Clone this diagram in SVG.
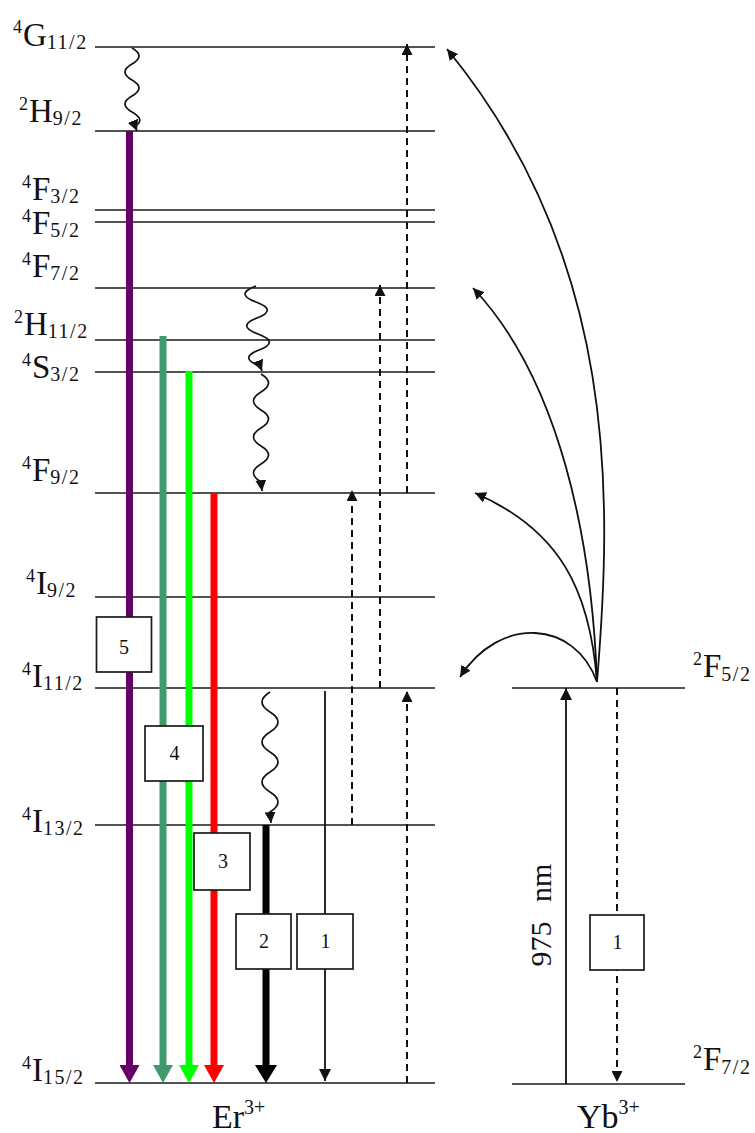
<svg xmlns="http://www.w3.org/2000/svg" width="755" height="1133" viewBox="0 0 755 1133">
<style>
.lv{stroke:#1a1a1a;stroke-width:1.7;fill:none}
.t{font-family:"Liberation Serif","Times New Roman",serif;fill:#111}
.m{font-size:33px}
.sb{font-size:20px;letter-spacing:1.5px}
.sp{font-size:18px}
.bx rect{fill:#fff;stroke:#1a1a1a;stroke-width:1.7}
.bx text{font-family:"Liberation Serif","Times New Roman",serif;font-size:20px;text-anchor:middle;fill:#111}
.thin{stroke:#111;stroke-width:1.8;fill:none}
.dash{stroke:#111;stroke-width:2;stroke-dasharray:7 5;fill:none}
.wave{stroke:#111;stroke-width:1.7;fill:none}
.thick{fill:none;stroke-width:7}
</style>
<defs>
<marker id="aP" markerUnits="userSpaceOnUse" markerWidth="20" markerHeight="20" refX="3" refY="10" orient="auto"><path d="M0,0 L18,10 L0,20 Z" fill="#660066"/></marker>
<marker id="aG" markerUnits="userSpaceOnUse" markerWidth="20" markerHeight="20" refX="3" refY="10" orient="auto"><path d="M0,0 L18,10 L0,20 Z" fill="#3f9a6e"/></marker>
<marker id="aL" markerUnits="userSpaceOnUse" markerWidth="20" markerHeight="20" refX="3" refY="10" orient="auto"><path d="M0,0 L18,10 L0,20 Z" fill="#00ff00"/></marker>
<marker id="aR" markerUnits="userSpaceOnUse" markerWidth="20" markerHeight="20" refX="3" refY="10" orient="auto"><path d="M0,0 L18,10 L0,20 Z" fill="#ff0000"/></marker>
<marker id="aK" markerUnits="userSpaceOnUse" markerWidth="20" markerHeight="22" refX="3" refY="11" orient="auto"><path d="M0,0 L18,11 L0,22 Z" fill="#000"/></marker>
<marker id="aM" markerUnits="userSpaceOnUse" markerWidth="13" markerHeight="13" refX="12" refY="6" orient="auto"><path d="M0,0 L12,6 L0,12 Z" fill="#111"/></marker>
<marker id="aS" markerUnits="userSpaceOnUse" markerWidth="12" markerHeight="11" refX="11" refY="5.5" orient="auto"><path d="M0,0 L11,5.5 L0,11 Z" fill="#111"/></marker>
</defs>

<g id="lvl-4G11">
<line class="lv" x1="95" y1="47" x2="435" y2="47"/>
<text class="t" x="13" y="46"><tspan class="sp" dy="-13">4</tspan><tspan class="m" dx="1" dy="13">G</tspan><tspan class="sb" dy="3">11/2</tspan></text>
</g>
<g id="lvl-2H9">
<line class="lv" x1="95" y1="131" x2="435" y2="131"/>
<text class="t" x="19" y="122"><tspan class="sp" dy="-12">2</tspan><tspan class="m" dx="1" dy="12">H</tspan><tspan class="sb" dy="3">9/2</tspan></text>
</g>
<g id="lvl-4F3">
<line class="lv" x1="95" y1="210" x2="435" y2="210"/>
<text class="t" x="22" y="200"><tspan class="sp" dy="-12">4</tspan><tspan class="m" dx="1" dy="12">F</tspan><tspan class="sb" dy="3">3/2</tspan></text>
</g>
<g id="lvl-4F5">
<line class="lv" x1="95" y1="222" x2="435" y2="222"/>
<text class="t" x="22" y="234"><tspan class="sp" dy="-12">4</tspan><tspan class="m" dx="1" dy="12">F</tspan><tspan class="sb" dy="3">5/2</tspan></text>
</g>
<g id="lvl-4F7">
<line class="lv" x1="95" y1="288" x2="435" y2="288"/>
<text class="t" x="22" y="277"><tspan class="sp" dy="-12">4</tspan><tspan class="m" dx="1" dy="12">F</tspan><tspan class="sb" dy="3">7/2</tspan></text>
</g>
<g id="lvl-2H11">
<line class="lv" x1="95" y1="340" x2="435" y2="340"/>
<text class="t" x="14" y="335"><tspan class="sp" dy="-12">2</tspan><tspan class="m" dx="1" dy="12">H</tspan><tspan class="sb" dy="3">11/2</tspan></text>
</g>
<g id="lvl-4S3">
<line class="lv" x1="95" y1="372" x2="435" y2="372"/>
<text class="t" x="22" y="378"><tspan class="sp" dy="-12">4</tspan><tspan class="m" dx="1" dy="12">S</tspan><tspan class="sb" dy="3">3/2</tspan></text>
</g>
<g id="lvl-4F9">
<line class="lv" x1="95" y1="493" x2="435" y2="493"/>
<text class="t" x="22" y="481"><tspan class="sp" dy="-12">4</tspan><tspan class="m" dx="1" dy="12">F</tspan><tspan class="sb" dy="3">9/2</tspan></text>
</g>
<g id="lvl-4I9">
<line class="lv" x1="95" y1="597" x2="435" y2="597"/>
<text class="t" x="26" y="594"><tspan class="sp" dy="-12">4</tspan><tspan class="m" dx="1" dy="12">I</tspan><tspan class="sb" dy="3">9/2</tspan></text>
</g>
<g id="lvl-4I11">
<line class="lv" x1="95" y1="688" x2="435" y2="688"/>
<text class="t" x="22" y="687"><tspan class="sp" dy="-12">4</tspan><tspan class="m" dx="1" dy="12">I</tspan><tspan class="sb" dy="3">11/2</tspan></text>
</g>
<g id="lvl-4I13">
<line class="lv" x1="95" y1="825" x2="435" y2="825"/>
<text class="t" x="22" y="832"><tspan class="sp" dy="-12">4</tspan><tspan class="m" dx="1" dy="12">I</tspan><tspan class="sb" dy="3">13/2</tspan></text>
</g>
<g id="lvl-4I15">
<line class="lv" x1="95" y1="1083" x2="435" y2="1083"/>
<text class="t" x="22" y="1081"><tspan class="sp" dy="-12">4</tspan><tspan class="m" dx="1" dy="12">I</tspan><tspan class="sb" dy="3">15/2</tspan></text>
</g>
<g id="lvl-2F5">
<line class="lv" x1="512" y1="688" x2="685" y2="688"/>
<text class="t" x="693" y="677"><tspan class="sp" dy="-12">2</tspan><tspan class="m" dx="1" dy="12">F</tspan><tspan class="sb" dy="4">5/2</tspan></text>
</g>
<g id="lvl-2F7">
<line class="lv" x1="512" y1="1084" x2="685" y2="1084"/>
<text class="t" x="693" y="1070"><tspan class="sp" dy="-12">2</tspan><tspan class="m" dx="1" dy="12">F</tspan><tspan class="sb" dy="4">7/2</tspan></text>
</g>

<g id="ion-labels">
<text class="t" x="212" y="1128" font-size="34">Er<tspan font-size="20" dy="-14">3+</tspan></text>
<text class="t" x="577" y="1128" font-size="34">Yb<tspan font-size="20" dy="-14">3+</tspan></text>
</g>

<g id="connectors">
<path class="thick" stroke="#660066" d="M129.5,131 V1068" marker-end="url(#aP)"/>
<path class="thick" stroke="#3f9a6e" d="M163,336 V1068" marker-end="url(#aG)"/>
<path class="thick" stroke="#00ff00" d="M189,371 V1068" marker-end="url(#aL)"/>
<path class="thick" stroke="#ff0000" d="M214,493 V1068" marker-end="url(#aR)"/>
<path class="thick" stroke="#000" d="M266,825 V1068" marker-end="url(#aK)"/>
<path class="thin" d="M325,691 V1081" marker-end="url(#aM)"/>

<path class="wave" d="M132,48 q 14,8 0,16 t 0,16 t 0,16 t 0,16 t 3,14 l 2,5" marker-end="url(#aS)"/>
<path class="wave" d="M256,286 q -22,8 0,16 t 1,16 t 1,16 t 1,16 t 1,16 l 2,5" marker-end="url(#aS)"/>
<path class="wave" d="M261,374 q 15,9 0,18 t 0,18 t 0,18 t 0,18 t 0,18 t 0,18 l 1,9" marker-end="url(#aS)"/>
<path class="wave" d="M270,692 q -16,10 0,20 t 0,20 t 0,20 t 0,20 t 0,20 t 0,20 l 1,11" marker-end="url(#aS)"/>

<path class="dash" d="M407,1083 V691" marker-end="url(#aS)"/>
<path class="dash" d="M407,493 V44" marker-end="url(#aS)"/>
<path class="dash" d="M380,688 V285" marker-end="url(#aS)"/>
<path class="dash" d="M352,825 V490" marker-end="url(#aS)"/>

<path class="thin" d="M566,1084 V688" marker-end="url(#aM)"/>
<path class="dash" d="M617,688 V1082" marker-end="url(#aS)"/>

<path class="thin" d="M597,682 C612,500 620,260 447,49" marker-end="url(#aS)"/>
<path class="thin" d="M597,682 C592,540 560,380 473,288" marker-end="url(#aS)"/>
<path class="thin" d="M597,682 C590,590 560,530 475,493" marker-end="url(#aS)"/>
<path class="thin" d="M597,682 C575,620 500,615 460,677" marker-end="url(#aS)"/>
</g>

<g id="lbl-975">
<text class="t" x="551" y="915" font-size="30" text-anchor="middle" word-spacing="12" transform="rotate(-90 551 915)">975 nm</text>
</g>

<g id="box5" class="bx"><rect x="96.5" y="617" width="55" height="55"/><text x="124" y="654">5</text></g>
<g id="box4" class="bx"><rect x="145" y="726" width="58" height="55"/><text x="174.5" y="760">4</text></g>
<g id="box3" class="bx"><rect x="194" y="833" width="56" height="57"/><text x="223" y="868">3</text></g>
<g id="box2" class="bx"><rect x="236" y="914" width="55" height="55"/><text x="264" y="948">2</text></g>
<g id="box1er" class="bx"><rect x="297" y="914" width="56" height="55"/><text x="325.5" y="948">1</text></g>
<g id="box1yb" class="bx"><rect x="590" y="915" width="54" height="55"/><text x="617.5" y="949">1</text></g>
</svg>
